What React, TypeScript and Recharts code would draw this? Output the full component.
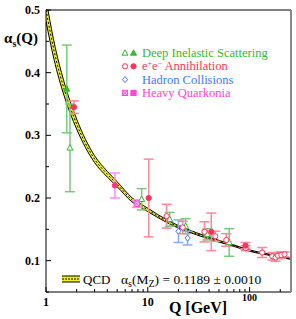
import React from "react";
import {
  ComposedChart,
  Area,
  Line,
  Scatter,
  ErrorBar,
  XAxis,
  YAxis,
  ReferenceLine,
} from "recharts";

// QCD running coupling band
const qcdQ = [1, 1.2, 1.5, 2, 3, 4, 5, 7, 10, 15, 20, 30, 50, 70, 100, 150, 200, 255];
const qcdCentral = [0.5, 0.435, 0.375, 0.318, 0.262, 0.238, 0.222, 0.197, 0.181, 0.164, 0.154, 0.143, 0.131, 0.124, 0.116, 0.11, 0.106, 0.103];
const qcdHalf = [0.018, 0.014, 0.011, 0.008, 0.0055, 0.0045, 0.004, 0.0033, 0.0027, 0.0022, 0.002, 0.0017, 0.0014, 0.0012, 0.0011, 0.001, 0.0009, 0.0009];

// measurements: Q [GeV], alpha_s, error
const disFilledQ = [1.6];
const disFilledA = [0.374];
const disFilledE = [0.07];
const disOpenQ = [1.72, 8.7, 16.4, 23.5, 38.5, 63];
const disOpenA = [0.28, 0.198, 0.166, 0.155, 0.142, 0.129];
const disOpenE = [0.07, 0.017, 0.011, 0.012, 0.009, 0.022];

const eeFilledQ = [1.88, 10.2, 42, 91];
const eeFilledA = [0.345, 0.2, 0.146, 0.124];
const eeFilledE = [0.01, 0.062, 0.03, 0.005];
const eeOpenQ = [15.3, 22, 36, 46, 59, 91.5, 133, 167, 180, 190, 205, 220];
const eeOpenA = [0.171, 0.153, 0.146, 0.139, 0.133, 0.12, 0.113, 0.107, 0.105, 0.108, 0.109, 0.11];
const eeOpenE = [0.019, 0.01, 0.016, 0.008, 0.01, 0.004, 0.008, 0.006, 0.006, 0.005, 0.005, 0.004];

const hadQ = [20, 24.6];
const hadA = [0.147, 0.136];
const hadE = [0.018, 0.011];

const quarkFilledQ = [4.75];
const quarkFilledA = [0.22];
const quarkFilledE = [0.02];
const quarkOpenQ = [7.8];
const quarkOpenA = [0.191];
const quarkOpenE = [0.006];

const yTicks = [0.05, 0.1, 0.15, 0.2, 0.25, 0.3, 0.35, 0.4, 0.45, 0.5];
const xTicks = [1, 2, 3, 4, 5, 6, 7, 8, 9, 10, 20, 30, 40, 50, 60, 70, 80, 90, 100, 200];

const GREEN = "#33bb33";
const GREEN_BAR = "#77cc77";
const RED = "#ff3355";
const RED_BAR = "#ff8899";
const BLUE = "#4477ff";
const BLUE_BAR = "#88aaff";
const MAG = "#ff44dd";
const MAG_BAR = "#ff88ff";

const serif = "'Liberation Serif', 'Times New Roman', serif";

const curve = qcdQ.map((q, i) => ({
  q,
  c: qcdCentral[i],
  band: [qcdCentral[i] - qcdHalf[i], qcdCentral[i] + qcdHalf[i]],
}));

const pts = (q: number[], a: number[], e: number[]) =>
  q.map((v, i) => ({ q: v, a: a[i], e: e[i] }));

function marker(kind: string, cx: number, cy: number, color: string, filled: boolean) {
  const fill = filled ? color : "#fff";
  if (kind === "tri")
    return (
      <polygon
        points={`${cx},${cy - 3.2} ${cx - 3},${cy + 2.2} ${cx + 3},${cy + 2.2}`}
        fill={fill}
        stroke={color}
        strokeWidth={1}
      />
    );
  if (kind === "dia")
    return (
      <polygon
        points={`${cx},${cy - 3} ${cx + 2.6},${cy} ${cx},${cy + 3} ${cx - 2.6},${cy}`}
        fill={fill}
        stroke={color}
        strokeWidth={1}
      />
    );
  if (kind === "sq")
    return (
      <g>
        <rect x={cx - 2.6} y={cy - 2.6} width={5.2} height={5.2} fill={filled ? color : "#ffc8f4"} stroke={color} strokeWidth={1} />
        {!filled && (
          <path d={`M${cx - 2.6},${cy - 2.6}L${cx + 2.6},${cy + 2.6}M${cx + 2.6},${cy - 2.6}L${cx - 2.6},${cy + 2.6}`} stroke={color} strokeWidth={0.8} />
        )}
      </g>
    );
  return <circle cx={cx} cy={cy} r={2.6} fill={fill} stroke={color} strokeWidth={1} />;
}

const shapeOf = (kind: string, color: string, filled: boolean) => (p: any) =>
  marker(kind, p.cx, p.cy, color, filled);

const XTick = (p: any) => {
  const v = p.payload.value;
  const major = v === 1 || v === 10 || v === 100;
  return (
    <g>
      <line x1={p.x} y1={p.y} x2={p.x} y2={p.y - (major ? 5 : 3)} stroke="#000" />
      {major && (
        <text
          x={p.x}
          y={v === 100 ? p.y + 9 : p.y + 14}
          textAnchor="middle"
          fontFamily={serif}
          fontWeight="bold"
          fontSize={v === 100 ? 10 : 12}
          fill="#000"
        >
          {v}
        </text>
      )}
    </g>
  );
};

const YTick = (p: any) => {
  const v = p.payload.value;
  const major = Math.abs(v * 10 - Math.round(v * 10)) < 1e-6;
  return (
    <g>
      <line x1={p.x + 6} y1={p.y} x2={p.x + 6 + (major ? 5 : 3)} y2={p.y} stroke="#000" />
      {major && (
        <text x={p.x} y={p.y + 4} textAnchor="end" fontFamily={serif} fontWeight="bold" fontSize={12} fill="#000">
          {v.toFixed(1)}
        </text>
      )}
    </g>
  );
};

const RTick = (p: any) => {
  const v = p.payload.value;
  const major = Math.abs(v * 10 - Math.round(v * 10)) < 1e-6;
  return <line x1={p.x} y1={p.y} x2={p.x - (major ? 5 : 3)} y2={p.y} stroke="#555" />;
};

const legendRows = [
  { label: "Deep Inelastic Scattering", color: GREEN, kind: "tri", both: true },
  { label: "e+e- Annihilation", color: RED, kind: "circ", both: true },
  { label: "Hadron Collisions", color: BLUE, kind: "dia", both: false },
  { label: "Heavy Quarkonia", color: MAG, kind: "sq", both: true },
];

export default function App() {
  return (
    <div style={{ position: "absolute", left: 0, top: 0, width: 296, height: 319, background: "#fff" }}>
      <ComposedChart width={296} height={319} data={curve} margin={{ top: 10, right: 4, bottom: 0, left: 0 }}>
        <XAxis
          dataKey="q"
          type="number"
          scale="log"
          domain={[1, 255]}
          ticks={xTicks}
          interval={0}
          allowDataOverflow
          height={27}
          tickSize={0}
          tickMargin={0}
          tickLine={false}
          axisLine={{ stroke: "#000" }}
          tick={<XTick />}
        />
        <YAxis
          type="number"
          domain={[0.05, 0.5]}
          ticks={yTicks}
          interval={0}
          allowDataOverflow
          width={46}
          tickSize={0}
          tickMargin={6}
          tickLine={false}
          axisLine={{ stroke: "#000" }}
          tick={<YTick />}
        />
        <YAxis
          yAxisId="r"
          orientation="right"
          type="number"
          domain={[0.05, 0.5]}
          ticks={yTicks}
          interval={0}
          width={1}
          tickSize={0}
          tickMargin={0}
          tickLine={false}
          axisLine={{ stroke: "#888", strokeWidth: 2 }}
          tick={<RTick />}
        />
        <ReferenceLine y={0.5} stroke="#000" strokeWidth={1} />
        <Area dataKey="band" type="monotone" fill="#eef020" fillOpacity={1} stroke="#000" strokeWidth={1} isAnimationActive={false} />
        <Line dataKey="c" type="monotone" stroke="#000" strokeWidth={1} strokeDasharray="2 2" dot={false} isAnimationActive={false} />

        <Scatter data={pts(disOpenQ, disOpenA, disOpenE)} dataKey="a" shape={shapeOf("tri", GREEN, false)} isAnimationActive={false}>
          <ErrorBar dataKey="e" direction="y" width={5} stroke={GREEN_BAR} strokeWidth={1.5} />
        </Scatter>
        <Scatter data={pts(disFilledQ, disFilledA, disFilledE)} dataKey="a" shape={shapeOf("tri", GREEN, true)} isAnimationActive={false}>
          <ErrorBar dataKey="e" direction="y" width={5} stroke={GREEN_BAR} strokeWidth={1.5} />
        </Scatter>
        <Scatter data={pts(hadQ, hadA, hadE)} dataKey="a" shape={shapeOf("dia", BLUE, false)} isAnimationActive={false}>
          <ErrorBar dataKey="e" direction="y" width={5} stroke={BLUE_BAR} strokeWidth={1.5} />
        </Scatter>
        <Scatter data={pts(quarkOpenQ, quarkOpenA, quarkOpenE)} dataKey="a" shape={shapeOf("sq", MAG, false)} isAnimationActive={false}>
          <ErrorBar dataKey="e" direction="y" width={5} stroke={MAG_BAR} strokeWidth={1.5} />
        </Scatter>
        <Scatter data={pts(quarkFilledQ, quarkFilledA, quarkFilledE)} dataKey="a" shape={shapeOf("circ", "#ff3388", true)} isAnimationActive={false}>
          <ErrorBar dataKey="e" direction="y" width={5} stroke={MAG_BAR} strokeWidth={1.5} />
        </Scatter>
        <Scatter data={pts(eeOpenQ, eeOpenA, eeOpenE)} dataKey="a" shape={shapeOf("circ", RED, false)} isAnimationActive={false}>
          <ErrorBar dataKey="e" direction="y" width={5} stroke={RED_BAR} strokeWidth={1.5} />
        </Scatter>
        <Scatter data={pts(eeFilledQ, eeFilledA, eeFilledE)} dataKey="a" shape={shapeOf("circ", RED, true)} isAnimationActive={false}>
          <ErrorBar dataKey="e" direction="y" width={5} stroke={RED_BAR} strokeWidth={1.5} />
        </Scatter>
      </ComposedChart>

      <svg width={296} height={319} style={{ position: "absolute", left: 0, top: 0, pointerEvents: "none" }}>
        <text x={4} y={43} fontFamily={serif} fontWeight="bold" fontSize={15} fill="#000">
          α<tspan fontSize={10} dy={4}>s</tspan>
          <tspan dy={-4}>(Q)</tspan>
        </text>
        <text x={198} y={313} textAnchor="middle" fontFamily={serif} fontWeight="bold" fontSize={16} fill="#000">
          Q [GeV]
        </text>

        {legendRows.map((r, i) => {
          const y = 53 + i * 13.3;
          return (
            <g key={r.label}>
              {marker(r.kind, 125, y, r.color, false)}
              {r.both && marker(r.kind, 133.5, y, r.color, true)}
              <text x={142} y={y + 4} fontFamily={serif} fontSize={12.5} fill={r.color}>
                {i === 1 ? (
                  <>
                    e<tspan fontSize={8} dy={-4}>+</tspan>
                    <tspan dy={4}>e</tspan>
                    <tspan fontSize={8} dy={-4}>−</tspan>
                    <tspan dy={4}> Annihilation</tspan>
                  </>
                ) : (
                  r.label
                )}
              </text>
            </g>
          );
        })}

        <rect x={62} y={276} width={18} height={6} fill="#eef020" />
        <line x1={62} y1={276} x2={80} y2={276} stroke="#000" />
        <line x1={62} y1={279} x2={80} y2={279} stroke="#000" strokeDasharray="2 1" />
        <line x1={62} y1={282} x2={80} y2={282} stroke="#000" />
        <text x={83} y={284} fontFamily={serif} fontSize={13} fill="#000">
          QCD
        </text>
        <text x={121} y={284} fontFamily={serif} fontSize={13.5} fill="#000">
          α<tspan fontSize={10} dy={3}>s</tspan>
          <tspan dy={-3}>(M</tspan>
          <tspan fontSize={10} dy={3}>Z</tspan>
          <tspan dy={-3}>) = 0.1189 ± 0.0010</tspan>
        </text>
      </svg>
    </div>
  );
}
